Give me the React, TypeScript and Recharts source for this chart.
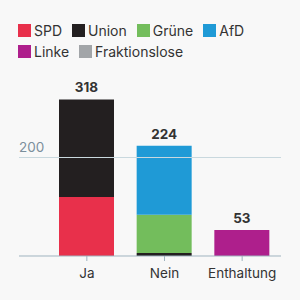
import React from "react";
import { BarChart, Bar, XAxis, YAxis, ReferenceLine, LabelList } from "recharts";

const categories = ["Ja", "Nein", "Enthaltung"];
const parties = ["SPD", "Union", "Grüne", "AfD", "Linke", "Fraktionslose"];
const partyColors = ["#e8304b", "#231f20", "#73bd5c", "#1f9ad6", "#ae1f8c", "#a2a5a8"];
const spd = [120, 0, 0];
const union = [198, 6, 0];
const gruene = [0, 78, 0];
const afd = [0, 140, 0];
const linke = [0, 0, 53];
const fraktionslose = [0, 0, 0];
const yTicks = [200];

const seriesValues = [spd, union, gruene, afd, linke, fraktionslose];

const data = categories.map((c, i) => {
  const row: any = { name: c };
  let total = 0;
  let top = "";
  parties.forEach((p, k) => {
    row[p] = seriesValues[k][i];
    total += seriesValues[k][i];
    if (seriesValues[k][i] > 0) top = p;
  });
  row.total = total;
  row.top = top;
  return row;
});

const FONT = "Inter, 'Noto Sans', sans-serif";

export default function App() {
  return (
    <div
      style={{
        position: "fixed",
        left: 0,
        top: 0,
        width: 300,
        height: 300,
        background: "#f8f8f8",
        fontFamily: FONT,
      }}
    >
      <div
        style={{
          position: "absolute",
          left: 18,
          top: 23.5,
          width: 275,
          display: "flex",
          flexWrap: "wrap",
          rowGap: 8.5,
        }}
      >
        {parties.map((p, k) => (
          <div
            key={p}
            style={{ display: "flex", alignItems: "center", marginRight: 10, height: 13 }}
          >
            <span
              style={{
                display: "inline-block",
                width: 13,
                height: 13,
                background: partyColors[k],
                marginRight: 3,
              }}
            />
            <span style={{ fontSize: 14, color: "#333333", lineHeight: "13px", whiteSpace: "nowrap" }}>{p}</span>
          </div>
        ))}
      </div>
      <BarChart
        width={300}
        height={300}
        data={data}
        margin={{ top: 59, right: 19, left: 19, bottom: 14 }}
        barSize={55}
      >
        <XAxis
          dataKey="name"
          padding={{ left: 29, right: 0 }}
          tickLine={{ stroke: "#9fb3bf" }}
          axisLine={{ stroke: "#9fb3bf" }}
          tickSize={5}
          tickMargin={7}
          height={30}
          tick={{ fontSize: 13.5, fill: "#333333", fontFamily: FONT }}
          interval={0}
        />
        <YAxis hide domain={[0, 400]} ticks={yTicks} />
        {yTicks.map((t) => (
          <ReferenceLine
            key={t}
            y={t}
            stroke="#c9d8de"
            ifOverflow="extendDomain"
            label={{
              value: String(t),
              position: "insideTopLeft",
              offset: 0,
              dy: -15,
              fontSize: 13.5,
              fill: "#7b8f9c",
              fontFamily: FONT,
            }}
          />
        ))}
        {parties.map((p, k) => (
          <Bar key={p} dataKey={p} stackId="a" fill={partyColors[k]} isAnimationActive={false}>
            <LabelList
              dataKey={(row: any) => (row.top === p ? row.total : undefined)}
              position="top"
              offset={7}
              fontFamily={FONT}
              fontSize={13.5}
              fontWeight={700}
              fill="#333333"
            />
          </Bar>
        ))}
      </BarChart>
    </div>
  );
}
